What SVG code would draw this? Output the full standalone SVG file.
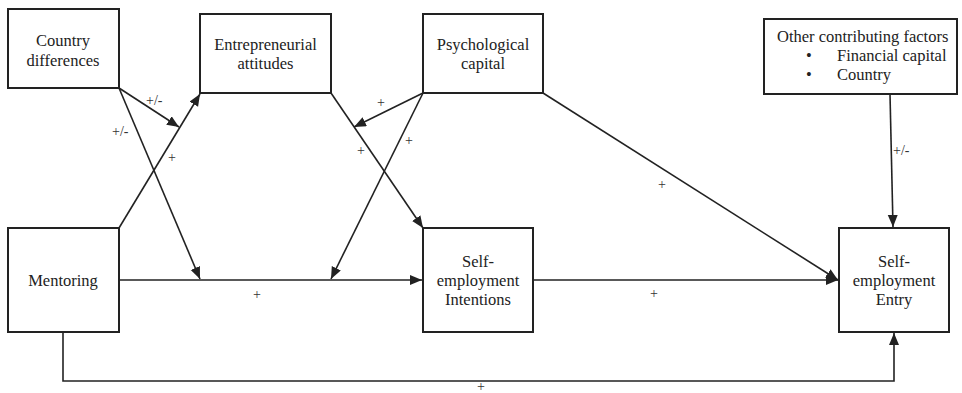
<svg xmlns="http://www.w3.org/2000/svg" width="962" height="393" viewBox="0 0 962 393">
<style>
.box{fill:#fff;stroke:#222;stroke-width:2}
.t{font-family:"Liberation Serif","Times New Roman",serif;font-size:16.5px;fill:#222;text-anchor:middle}
.tl{font-family:"Liberation Serif","Times New Roman",serif;font-size:16.5px;fill:#222}
.lbl{font-family:"Liberation Serif","Times New Roman",serif;font-size:14px;fill:#333}
.c{fill:none;stroke:#222;stroke-width:1.6}
</style>
<defs>
<marker id="ah" markerWidth="13" markerHeight="11" refX="12" refY="5" orient="auto" markerUnits="userSpaceOnUse">
<path d="M0,0 L12,5 L0,10 z" fill="#222"/>
</marker>
</defs>
<rect width="962" height="393" fill="#fff"/>
<g id="connectors">
<line class="c" x1="119" y1="88" x2="179" y2="127" marker-end="url(#ah)"/>
<line class="c" x1="119" y1="88" x2="200" y2="279" marker-end="url(#ah)"/>
<line class="c" x1="119" y1="228" x2="200" y2="94" marker-end="url(#ah)"/>
<line class="c" x1="331" y1="93" x2="423" y2="228" marker-end="url(#ah)"/>
<line class="c" x1="423" y1="93" x2="354" y2="127" marker-end="url(#ah)"/>
<line class="c" x1="423" y1="93" x2="331" y2="279" marker-end="url(#ah)"/>
<line class="c" x1="543" y1="93" x2="838" y2="280" marker-end="url(#ah)"/>
<line class="c" x1="119" y1="280" x2="422" y2="280" marker-end="url(#ah)"/>
<line class="c" x1="533" y1="280" x2="838" y2="280" marker-end="url(#ah)"/>
<line class="c" x1="890" y1="94" x2="893" y2="227" marker-end="url(#ah)"/>
<polyline class="c" points="63,332 63,381 894,381 894,333" marker-end="url(#ah)"/>
<text class="lbl" x="146" y="105">+/-</text>
<text class="lbl" x="112" y="136">+/-</text>
<text class="lbl" x="168" y="162">+</text>
<text class="lbl" x="357" y="155">+</text>
<text class="lbl" x="377" y="107">+</text>
<text class="lbl" x="405" y="145">+</text>
<text class="lbl" x="658" y="189">+</text>
<text class="lbl" x="253" y="299">+</text>
<text class="lbl" x="650" y="298">+</text>
<text class="lbl" x="893" y="155">+/-</text>
<text class="lbl" x="477" y="391">+</text>
</g>
<g id="country">
<rect class="box" x="8" y="9" width="111" height="79"/>
<text class="t" x="63" y="46">Country</text>
<text class="t" x="63" y="66">differences</text>
</g>
<g id="attitudes">
<rect class="box" x="200" y="14" width="131" height="79"/>
<text class="t" x="265.5" y="50">Entrepreneurial</text>
<text class="t" x="265.5" y="69">attitudes</text>
</g>
<g id="psycap">
<rect class="box" x="423" y="14" width="120" height="79"/>
<text class="t" x="483" y="50">Psychological</text>
<text class="t" x="483" y="69">capital</text>
</g>
<g id="other">
<rect class="box" x="764" y="19" width="193" height="75"/>
<text class="tl" x="777" y="42">Other contributing factors</text>
<text class="tl" x="806" y="61">•</text>
<text class="tl" x="837" y="61">Financial capital</text>
<text class="tl" x="806" y="80">•</text>
<text class="tl" x="837" y="80">Country</text>
</g>
<g id="mentoring">
<rect class="box" x="8" y="228" width="111" height="104"/>
<text class="t" x="63" y="286">Mentoring</text>
</g>
<g id="intentions">
<rect class="box" x="423" y="228" width="110" height="104"/>
<text class="t" x="478" y="267">Self-</text>
<text class="t" x="478" y="286">employment</text>
<text class="t" x="478" y="305">Intentions</text>
</g>
<g id="entry">
<rect class="box" x="839" y="228" width="110" height="104"/>
<text class="t" x="894" y="267">Self-</text>
<text class="t" x="894" y="286">employment</text>
<text class="t" x="894" y="305">Entry</text>
</g>
</svg>
